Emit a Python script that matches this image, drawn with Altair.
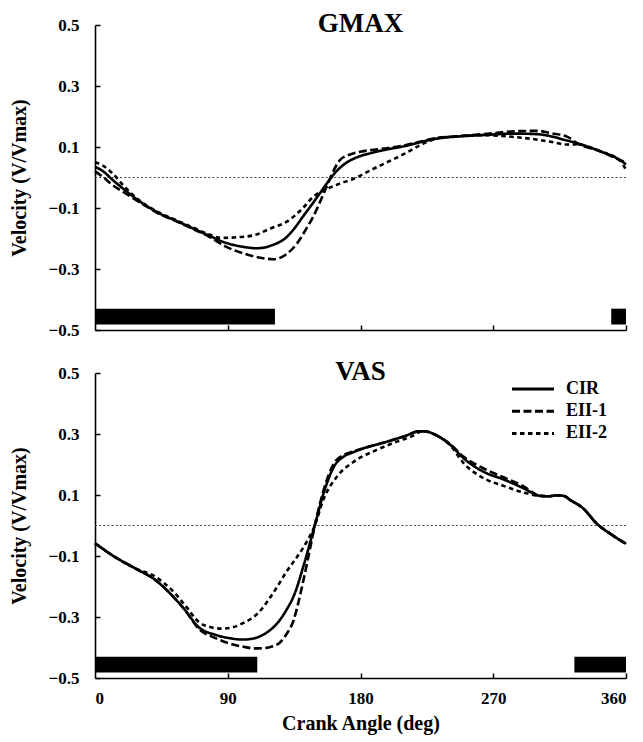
import altair as alt
import pandas as pd

SERIF = "Liberation Serif"
SERIES = ["CIR", "EII-1", "EII-2"]

# ---------------- GMAX ----------------
gmax_cir_angle = [0, 5, 12, 20, 32, 43, 55, 66, 77, 88, 100, 110, 120, 130, 135, 141, 148, 153, 158, 164, 170, 176, 187, 198, 210, 220, 232, 245, 263, 285, 300, 310, 320, 327, 343, 356, 360]
gmax_cir_vel = [0.035, 0.022, -0.008, -0.04, -0.084, -0.116, -0.142, -0.166, -0.19, -0.213, -0.227, -0.232, -0.222, -0.195, -0.168, -0.128, -0.082, -0.048, -0.014, 0.022, 0.047, 0.063, 0.08, 0.092, 0.103, 0.115, 0.128, 0.134, 0.139, 0.144, 0.142, 0.134, 0.121, 0.112, 0.085, 0.057, 0.043]

gmax_eii1_angle = [0, 5, 12, 20, 32, 43, 55, 66, 77, 88, 100, 111, 121, 129, 137, 143, 148, 153, 157, 162, 166, 171, 176, 187, 198, 210, 220, 232, 245, 263, 286, 300, 309, 320, 327, 343, 356, 360]
gmax_eii1_vel = [0.02, 0.003, -0.025, -0.05, -0.086, -0.118, -0.143, -0.168, -0.193, -0.225, -0.248, -0.262, -0.268, -0.254, -0.216, -0.17, -0.128, -0.075, -0.03, 0.025, 0.057, 0.072, 0.08, 0.09, 0.096, 0.106, 0.117, 0.13, 0.135, 0.142, 0.152, 0.153, 0.145, 0.134, 0.112, 0.085, 0.057, 0.05]

gmax_eii2_angle = [0, 5, 12, 20, 32, 43, 55, 66, 77, 85, 96, 108, 119, 130, 141, 148, 157, 166, 175, 186, 198, 210, 220, 232, 245, 263, 286, 300, 309, 320, 327, 343, 356, 360]
gmax_eii2_vel = [0.05, 0.04, 0.013, -0.03, -0.082, -0.114, -0.14, -0.163, -0.186, -0.198, -0.196, -0.189, -0.167, -0.145, -0.1, -0.063, -0.038, -0.02, -0.005, 0.022, 0.05, 0.078, 0.105, 0.128, 0.135, 0.139, 0.132, 0.124, 0.117, 0.108, 0.108, 0.085, 0.055, 0.025]

gmax_bar_start = [0, 350]
gmax_bar_end = [122, 360]

# ---------------- VAS ----------------
vas_cir_angle = [0, 11.5, 27, 41, 52, 61, 70, 82, 92, 100, 108, 114, 119, 124, 130, 135, 141.5, 149, 155, 162, 168.6, 175, 182, 198, 210, 220, 225, 230, 241, 250, 263.5, 277, 290.6, 302, 308, 313, 318, 322, 331, 340, 349, 360]
vas_cir_vel = [-0.058, -0.097, -0.14, -0.179, -0.228, -0.277, -0.332, -0.359, -0.37, -0.374, -0.37, -0.358, -0.342, -0.318, -0.275, -0.228, -0.13, 0.0, 0.106, 0.193, 0.226, 0.24, 0.253, 0.275, 0.293, 0.309, 0.308, 0.299, 0.264, 0.22, 0.176, 0.151, 0.122, 0.097, 0.096, 0.099, 0.097, 0.084, 0.056, 0.007, -0.026, -0.06]

vas_eii1_angle = [0, 11.5, 27, 41, 52, 61, 70, 82, 92, 100, 108, 115, 120, 125, 130, 134.7, 138, 141.5, 145, 149, 155, 162, 168.6, 175, 182, 198, 210, 220, 225, 230, 241, 250, 263.5, 277, 290.6, 302, 308, 313, 318, 322, 331, 340, 349, 360]
vas_eii1_vel = [-0.058, -0.097, -0.14, -0.179, -0.228, -0.277, -0.337, -0.37, -0.388, -0.397, -0.403, -0.402, -0.397, -0.385, -0.355, -0.31, -0.25, -0.175, -0.095, 0.0, 0.116, 0.204, 0.231, 0.243, 0.253, 0.275, 0.293, 0.309, 0.308, 0.299, 0.266, 0.225, 0.187, 0.158, 0.128, 0.097, 0.096, 0.099, 0.097, 0.084, 0.056, 0.007, -0.026, -0.06]

vas_eii2_angle = [0, 11.5, 27, 41, 52, 61, 70, 78, 86, 94, 100, 106, 111, 117, 123, 130, 136, 141.5, 149, 155, 164, 175.4, 191, 204.7, 215, 222, 230, 241, 250, 263.5, 277, 290.6, 302, 308, 313, 318, 322, 331, 340, 349, 360]
vas_eii2_vel = [-0.058, -0.097, -0.14, -0.168, -0.211, -0.261, -0.315, -0.333, -0.338, -0.333, -0.321, -0.305, -0.285, -0.248, -0.205, -0.15, -0.11, -0.07, 0.0, 0.087, 0.16, 0.209, 0.248, 0.275, 0.293, 0.309, 0.299, 0.262, 0.204, 0.155, 0.13, 0.108, 0.097, 0.096, 0.099, 0.097, 0.084, 0.056, 0.007, -0.026, -0.06]

vas_bar_start = [0, 325]
vas_bar_end = [110, 360]

bar_low = -0.482
bar_high = -0.43
zero_level = [0.0]

y_ticks = [-0.5, -0.3, -0.1, 0.1, 0.3, 0.5]
x_ticks = [0, 90, 180, 270, 360]
x_inner_ticks = [90, 180, 270, 360]

PLOT_W = 531
PLOT_H = 305


def lines_df(curves):
    rows = []
    for name, angles, vels in curves:
        for a, v in zip(angles, vels):
            rows.append({"angle": a, "velocity": v, "series": name})
    return pd.DataFrame(rows)


def panel(curves, bar_start, bar_end, title, show_x_labels, show_legend):
    df = lines_df(curves)
    bars = pd.DataFrame({"start": bar_start, "end": bar_end,
                         "lo": [bar_low] * len(bar_start), "hi": [bar_high] * len(bar_start)})
    zero = pd.DataFrame({"v": zero_level})

    xscale = alt.Scale(domain=[0, 360], nice=False, zero=False)
    yscale = alt.Scale(domain=[-0.5, 0.5], nice=False, zero=False)

    x_axis = alt.Axis(
        orient="bottom", values=x_ticks, ticks=False, grid=False,
        domain=True, domainColor="black", domainWidth=1.6,
        labels=show_x_labels, labelFont=SERIF, labelFontSize=17, labelFontWeight="bold",
        labelColor="black", labelPadding=12,
        title="Crank Angle (deg)" if show_x_labels else None,
        titleFont=SERIF, titleFontSize=20, titleFontWeight="bold", titleColor="black",
        titlePadding=7,
    )
    y_axis = alt.Axis(
        orient="left", values=y_ticks, format=".1f", ticks=False, grid=False,
        domain=True, domainColor="black", domainWidth=1.6,
        labelFont=SERIF, labelFontSize=17, labelFontWeight="bold", labelColor="black",
        labelPadding=16,
        title="Velocity (V/Vmax)", titleFont=SERIF, titleFontSize=20,
        titleFontWeight="bold", titleColor="black", titlePadding=19,
    )

    legend = None
    if show_legend:
        legend = alt.Legend(
            orient="none", legendX=429, legendY=7, title=None,
            symbolType="M-3,0H3", symbolSize=196, symbolStrokeWidth=3,
            symbolStrokeColor="black", symbolFillColor="transparent",
            labelFont=SERIF, labelFontSize=18, labelFontWeight="bold", labelColor="black",
            labelOffset=24, rowPadding=4.2, padding=0,
        )

    lines = alt.Chart(df).mark_line(color="black", strokeWidth=2.6, interpolate="monotone").encode(
        x=alt.X("angle:Q", scale=xscale, axis=x_axis),
        y=alt.Y("velocity:Q", scale=yscale, axis=y_axis),
        strokeDash=alt.StrokeDash(
            "series:N",
            scale=alt.Scale(domain=SERIES, range=[[1, 0], [8, 3.5], [4.5, 3.5]]),
            legend=legend,
        ),
    )

    zero_rule = alt.Chart(zero).mark_rule(color="#444444", strokeWidth=1.1, strokeDash=[2, 2.2]).encode(
        y=alt.Y("v:Q", scale=yscale, axis=alt.Axis(
            orient="right", offset=-PLOT_W, values=y_ticks, labels=False, domain=False,
            ticks=True, tickSize=5, tickWidth=1.5, tickColor="black", grid=False, title=None)),
    )

    bar_marks = alt.Chart(bars).mark_rect(color="black").encode(
        x=alt.X("start:Q", scale=xscale, axis=alt.Axis(
            orient="top", offset=-PLOT_H, values=x_inner_ticks, labels=False, domain=False,
            ticks=True, tickSize=5, tickWidth=1.5, tickColor="black", grid=False, title=None)),
        x2="end:Q",
        y=alt.Y("lo:Q", scale=yscale, axis=None),
        y2="hi:Q",
    )

    return alt.layer(zero_rule, bar_marks, lines).properties(
        width=PLOT_W, height=PLOT_H,
        title=alt.TitleParams(
            text=title, font=SERIF, fontSize=27, fontWeight="bold", color="black",
            anchor="middle", baseline="alphabetic", offset=-43,
        ),
    )


top = panel(
    [("CIR", gmax_cir_angle, gmax_cir_vel),
     ("EII-1", gmax_eii1_angle, gmax_eii1_vel),
     ("EII-2", gmax_eii2_angle, gmax_eii2_vel)],
    gmax_bar_start, gmax_bar_end, "GMAX", show_x_labels=False, show_legend=False,
)
bottom = panel(
    [("CIR", vas_cir_angle, vas_cir_vel),
     ("EII-1", vas_eii1_angle, vas_eii1_vel),
     ("EII-2", vas_eii2_angle, vas_eii2_vel)],
    vas_bar_start, vas_bar_end, "VAS", show_x_labels=True, show_legend=True,
)

chart = alt.vconcat(top, bottom, spacing=43, bounds="flush").resolve_legend(
    strokeDash="independent"
).properties(
    padding={"left": 1, "top": 2, "right": 0, "bottom": 2},
    background="white",
).configure_view(stroke=None)

chart.save("out.html", embed_options={"renderer": "svg", "actions": False})
